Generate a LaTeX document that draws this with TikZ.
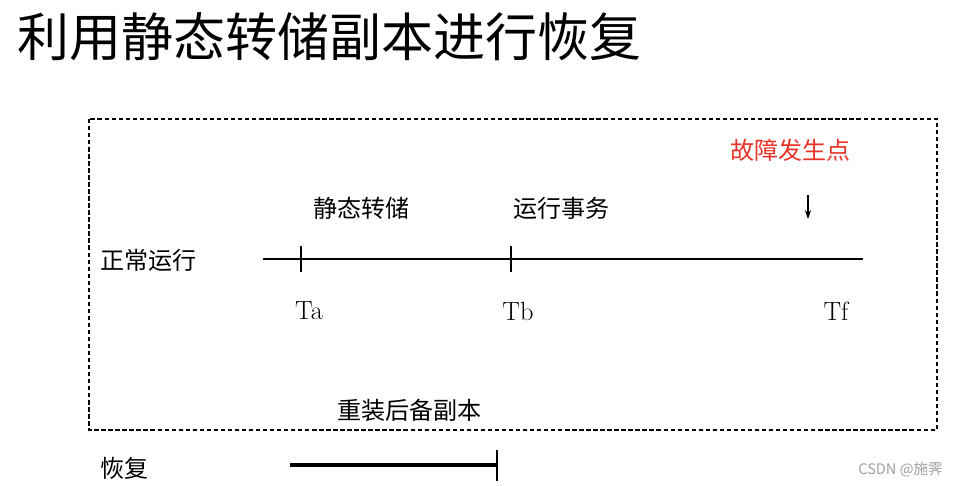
\documentclass[tikz,border=0pt]{standalone}
\usepackage{fontspec}
\usepackage{xcolor}
\usepackage{tikz}
\usetikzlibrary{calc,arrows.meta,positioning}
\newfontfamily\cjk{Noto Sans CJK SC}
\definecolor{faultred}{RGB}{232,52,40}
\definecolor{markgray}{RGB}{160,160,160}

\tikzset{
  label cn/.style={font=\cjk\fontsize{13.7}{15}\selectfont, inner sep=0pt, anchor=west},
  label t/.style={font=\fontsize{15}{17}\selectfont, inner sep=0pt},
  timeline/.style={line width=1.3pt},
  tickmark/.style={line width=1.3pt}
}

\begin{document}
\begin{tikzpicture}[x=0.02cm, y=-0.02cm]
    \useasboundingbox (0,0) rectangle (968,486);
    % title
    \node[anchor=west, inner sep=0pt, font=\cjk\fontsize{29.6}{32}\selectfont] (title) at (17,37) {利用静态转储副本进行恢复};
    % frame of normal run
    \draw[dash pattern=on 2.5pt off 1.5pt, line width=0.6pt] (89,119) rectangle (937,430);
    \node[label cn, text=faultred] (fault) at (730,150) {故障发生点};
    \node[label cn] (dump) at (313,208) {静态转储};
    \node[label cn] (trans) at (513,208) {运行事务};
    \node[label cn] (normal) at (100,260) {正常运行};
    % time line
    \coordinate (lstart) at (263,259);
    \coordinate (lend) at (863,259);
    \coordinate (ta) at (301,259);
    \coordinate (tb) at (511,259);
    \draw[timeline] (lstart) -- (lend);
    \foreach \t in {ta,tb}
      \draw[tickmark] ($(\t)+(0,-13)$) -- ($(\t)+(0,13)$);
    \node[label t] (lta) at (309,311) {Ta};
    \node[label t] (ltb) at (518,311) {Tb};
    \node[label t] (ltf) at (836,311) {Tf};
    \coordinate (arrtop) at (808,195);
    \coordinate (arrbot) at (808,219);
    \draw[-{Stealth[length=5pt,width=3.5pt]}, line width=0.8pt] (arrtop) -- (arrbot);
    \node[label cn] (reload) at (337,410) {重装后备副本};
    % recovery
    \node[label cn] (recover) at (100,468) {恢复};
    \coordinate (rstart) at (290,465);
    \coordinate (rend) at (497,465);
    \draw[line width=2.3pt] (rstart) -- (rend);
    \draw[tickmark] ($(rend)+(0,-15)$) -- ($(rend)+(0,16)$);
    \node[anchor=west, inner sep=0pt, text=markgray, font=\cjk\fontsize{8.3}{10}\selectfont] (mark) at (858,470) {CSDN @施霁};
  \end{tikzpicture}
\end{document}
